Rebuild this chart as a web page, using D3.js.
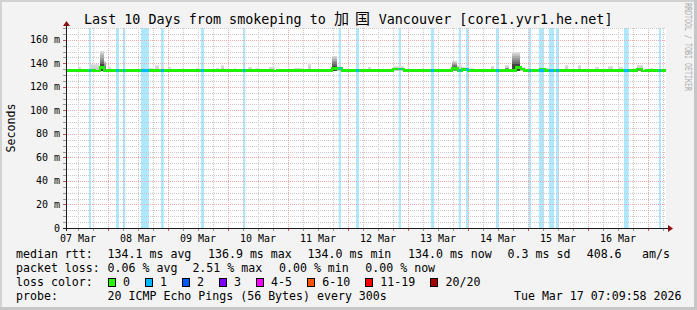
<!DOCTYPE html>
<html>
<head>
<meta charset="utf-8">
<script src="https://cdn.jsdelivr.net/npm/d3@7"></script>
<style>
  body { margin: 0; background: #f3f3f3; }
  svg { display: block; }
  text { font-family: "DejaVu Sans Mono", monospace; fill: #000; }
</style>
</head>
<body>
<svg id="chart"></svg>
<script>
// ---------------------------------------------------------------
//  data
// ---------------------------------------------------------------
const graphStart = "2026-03-07T07:09:58Z"
const graphEnd = "2026-03-17T07:09:58Z"

// loss periods, hours after graph start
const lossStartH = [9.2, 20.0, 22.8, 30.0, 38.0, 54.0, 70.9, 109.1, 116.0, 133.1, 146.0, 157.1, 160.0, 172.0, 185.1, 189.2, 193.2, 196.0, 223.2, 237.2]
const lossEndH   = [10.0, 21.2, 23.7, 33.2, 39.1, 55.2, 71.7, 110.0, 117.2, 134.0, 147.2, 158.0, 161.1, 173.1, 186.0, 191.1, 195.2, 197.1, 225.1, 238.0]
const lossCount  = [1, 1, 1, 1, 1, 1, 1, 1, 1, 1, 1, 1, 1, 1, 1, 1, 1, 1, 1, 1]

// median rtt (ms), step changes, hours after graph start
const medianH  = [0, 11.6, 13.6, 15.2, 16.4, 82.8, 84.4, 106.4, 110.4, 130.8, 135.2, 154.4, 156.8, 158.4, 160.8, 180.0, 182.0, 183.2, 189.6, 191.6, 228.4, 230.4, 232.0, 240]
const medianMs = [134.0, 133.3, 136.3, 133.3, 134.0, 133.3, 134.0, 135.5, 134.0, 135.3, 134.0, 135.5, 134.0, 134.8, 134.0, 136.5, 135.3, 134.0, 134.8, 134.0, 135.0, 133.3, 134.0, 134.0]

// smoke (ping spread) : from / to hours, top of spread, top of the dark core (ms)
const smokeStartH = [4.8, 10.0, 13.6, 15.2, 16.8, 30.0, 33.2, 35.6, 38.0, 40.8, 52.0, 60.0, 62.0, 67.2, 72.8, 75.6, 81.2, 91.2, 96.8, 106.4, 108.4, 120.8, 130.8, 154.4, 156.4, 158.4, 161.6, 170.0, 175.6, 178.4, 181.6, 189.6, 192.0, 199.6, 204.8, 211.6, 216.8, 221.2, 228.4, 233.6]
const smokeEndH   = [6.0, 13.2, 15.2, 16.0, 18.0, 31.2, 35.2, 37.2, 39.2, 42.0, 53.2, 61.2, 63.2, 68.0, 74.4, 77.6, 83.6, 94.4, 98.0, 108.4, 110.4, 122.0, 135.2, 156.4, 158.4, 161.2, 163.2, 171.2, 177.2, 181.6, 183.6, 191.6, 194.4, 200.8, 206.0, 213.2, 218.8, 222.8, 230.8, 234.8]
const smokeTop    = [137, 139.6, 150.6, 142, 137, 136, 136, 138.7, 137.5, 137, 136, 136, 138.7, 136, 137, 136, 137, 136, 140, 146.6, 138, 137, 137.5, 142, 138.5, 137, 136, 138, 138.7, 150, 137, 135.5, 136, 138.7, 138.7, 137, 137.5, 137, 138.7, 136]
const smokeCore   = [134.5, 135.5, 139, 136, 134.5, 135.5, 134.5, 135, 135, 134.5, 134.5, 134.5, 135, 134.5, 134.5, 134.5, 134.5, 134.5, 135, 138, 135.5, 134.5, 135.5, 137, 135, 134.5, 134.5, 135, 136, 139, 134.5, 134.5, 134.5, 135, 135, 134.5, 135, 134.5, 136, 134.5]

const yTicks = [0, 20, 40, 60, 80, 100, 120, 140, 160]

const rttLabel = "median rtt:"
const rttStats = ["134.1 ms avg", "136.9 ms max", "134.0 ms min", "134.0 ms now", "0.3 ms sd", "408.6", "am/s"]
const lossLabel = "packet loss:"
const lossStats = ["0.06 % avg", "2.51 % max", "0.00 % min", "0.00 % now"]
const lossColorLabel = "loss color:"
const lossNames  = ["0", "1", "2", "3", "4-5", "6-10", "11-19", "20/20"]
const lossColors = ["#26ff00", "#00b8ff", "#0059ff", "#7e00ff", "#ff00ff", "#ff5500", "#ff0000", "#a10000"]
const probeLabel = "probe:"
const probeText = "20 ICMP Echo Pings (56 Bytes) every 300s"
const stampText = "Tue Mar 17 07:09:58 2026"

const titleLeft = "Last 10 Days from smokeping to"
const titleCJK = "加国"
const titleRight = "Vancouver [core1.yvr1.he.net]"

// ---------------------------------------------------------------
//  layout
// ---------------------------------------------------------------
const W = 697, H = 310
const PLOT_L = 66, PLOT_R = 666, PLOT_T = 28, PLOT_B = 228
const CHAR_W = 7.03
const LEGEND_X = 16, VALUE_X = 107.6

const svg = d3.select("#chart").attr("width", W).attr("height", H)

svg.append("rect").attr("width", W).attr("height", H).attr("fill", "#f3f3f3")
// 3d frame
svg.append("rect").attr("x", 0).attr("y", 0).attr("width", W).attr("height", 2).attr("fill", "#d2d2d2")
svg.append("rect").attr("x", 0).attr("y", 0).attr("width", 2).attr("height", H).attr("fill", "#d2d2d2")
svg.append("rect").attr("x", W - 3).attr("y", 0).attr("width", 3).attr("height", H).attr("fill", "#c6c6c6")
svg.append("rect").attr("x", 0).attr("y", H - 3).attr("width", W).attr("height", 3).attr("fill", "#c6c6c6")

const t0 = new Date(graphStart)
const t1 = new Date(graphEnd)
const hrs = h => new Date(t0.getTime() + h * 3600e3)

const x = d3.scaleUtc().domain([t0, t1]).range([PLOT_L, PLOT_R])
const y = d3.scaleLinear().domain([0, 170]).range([PLOT_B, PLOT_T])

svg.append("rect")
    .attr("x", PLOT_L).attr("y", PLOT_T)
    .attr("width", PLOT_R - PLOT_L).attr("height", PLOT_B - PLOT_T)
    .attr("fill", "#ffffff")

// loss bars in the background
svg.append("g").selectAll("rect")
    .data(lossStartH.map((s, i) => ({ s, e: lossEndH[i], n: lossCount[i] })))
    .join("rect")
    .attr("x", d => x(hrs(d.s)))
    .attr("width", d => x(hrs(d.e)) - x(hrs(d.s)))
    .attr("y", PLOT_T)
    .attr("height", PLOT_B - PLOT_T)
    .attr("fill", d => lossColors[d.n])
    .attr("fill-opacity", 0.32)

// grid
const grid = svg.append("g").attr("shape-rendering", "crispEdges")
const minorY = d3.range(5, 171, 5).filter(v => v % 20 !== 0)
const majorY = d3.range(20, 170, 20)
grid.selectAll(".hmin").data(minorY).join("line")
    .attr("x1", PLOT_L).attr("x2", PLOT_R)
    .attr("y1", d => Math.round(y(d)) + 0.5).attr("y2", d => Math.round(y(d)) + 0.5)
    .attr("stroke", "#c8c8c8").attr("stroke-dasharray", "1,1")
const days = d3.utcDay.range(t0, t1)
const minorX = d3.utcHour.every(6).range(t0, t1).filter(d => d.getUTCHours() !== 0)
grid.selectAll(".vmin").data(minorX).join("line")
    .attr("x1", d => Math.round(x(d)) + 0.5).attr("x2", d => Math.round(x(d)) + 0.5)
    .attr("y1", PLOT_T).attr("y2", PLOT_B)
    .attr("stroke", "#c8c8c8").attr("stroke-dasharray", "1,1")
grid.selectAll(".hmaj").data(majorY).join("line")
    .attr("x1", PLOT_L).attr("x2", PLOT_R)
    .attr("y1", d => Math.round(y(d)) + 0.5).attr("y2", d => Math.round(y(d)) + 0.5)
    .attr("stroke", "#f2a8a8").attr("stroke-dasharray", "1,1")
grid.selectAll(".vmaj").data(days).join("line")
    .attr("x1", d => Math.round(x(d)) + 0.5).attr("x2", d => Math.round(x(d)) + 0.5)
    .attr("y1", PLOT_T).attr("y2", PLOT_B)
    .attr("stroke", "#f2a8a8").attr("stroke-dasharray", "1,1")

// smoke
const smoke = svg.append("g").attr("shape-rendering", "crispEdges")
const smokeData = smokeStartH.map((s, i) => ({ s, e: smokeEndH[i], top: smokeTop[i], core: smokeCore[i] }))
smokeData.forEach(d => {
    const x0 = x(hrs(d.s)), x1 = x(hrs(d.e))
    const base = 133.5
    const layers = 6
    const tall = d.top - base > 7
    const shade = d3.interpolateRgb(tall ? "#6a6a6a" : "#cdcdcd", tall ? "#dadada" : "#e0e0e0")
    for (let k = 0; k < layers; k++) {
        const lo = d.core + (d.top - d.core) * k / layers
        const hi = d.core + (d.top - d.core) * (k + 1) / layers
        smoke.append("rect")
            .attr("x", x0).attr("width", x1 - x0)
            .attr("y", y(hi)).attr("height", y(lo) - y(hi))
            .attr("fill", shade(k / (layers - 1)))
    }
    if (d.core > base) {
        smoke.append("rect")
            .attr("x", x0).attr("width", x1 - x0)
            .attr("y", y(d.core)).attr("height", y(base) - y(d.core))
            .attr("fill", d.core - base > 4 ? "#444444" : (d.core - base > 2 ? "#8a8a8a" : "#c4c4c4"))
    }
})

// median line
const medPts = medianH.map((h, i) => [hrs(h), medianMs[i]])
const line = d3.line().x(d => x(d[0])).y(d => y(d[1])).curve(d3.curveStepAfter)
svg.append("path")
    .attr("d", line(medPts))
    .attr("fill", "none")
    .attr("stroke", "#1ef000")
    .attr("stroke-width", 2.4)
    .attr("shape-rendering", "crispEdges")

const medianAt = h => medianMs[Math.max(0, d3.bisectRight(medianH, h) - 1)]
svg.append("g").selectAll("line")
    .data(lossStartH.map((s, i) => ({ s, e: lossEndH[i], n: lossCount[i] })))
    .join("line")
    .attr("x1", d => x(hrs(d.s))).attr("x2", d => x(hrs(d.e)))
    .attr("y1", d => y(medianAt(d.s))).attr("y2", d => y(medianAt(d.s)))
    .attr("stroke", d => lossColors[d.n])
    .attr("stroke-width", 2.4)
    .attr("shape-rendering", "crispEdges")

// axes
const axes = svg.append("g").attr("shape-rendering", "crispEdges")
axes.selectAll(".ty").data(d3.range(0, 171, 5)).join("line")
    .attr("x1", PLOT_L - 3).attr("x2", PLOT_L)
    .attr("y1", d => Math.round(y(d)) + 0.5).attr("y2", d => Math.round(y(d)) + 0.5)
    .attr("stroke", d => d % 20 === 0 ? "#d05050" : "#999")
axes.selectAll(".tx").data(d3.utcHour.every(6).range(t0, t1)).join("line")
    .attr("x1", d => Math.round(x(d)) + 0.5).attr("x2", d => Math.round(x(d)) + 0.5)
    .attr("y1", PLOT_B).attr("y2", PLOT_B + 3)
    .attr("stroke", d => d.getUTCHours() === 0 ? "#d05050" : "#999")
axes.append("line")
    .attr("x1", PLOT_L - 3).attr("x2", PLOT_R + 3)
    .attr("y1", PLOT_B + 0.5).attr("y2", PLOT_B + 0.5)
    .attr("stroke", "#1a1a1a")
axes.append("line")
    .attr("x1", PLOT_L + 0.5).attr("x2", PLOT_L + 0.5)
    .attr("y1", PLOT_B + 3).attr("y2", PLOT_T - 3)
    .attr("stroke", "#1a1a1a")
svg.append("path")
    .attr("d", `M${PLOT_R + 2},${PLOT_B - 3} L${PLOT_R + 7},${PLOT_B + 0.5} L${PLOT_R + 2},${PLOT_B + 4}Z`)
    .attr("fill", "#8a1010")
svg.append("path")
    .attr("d", `M${PLOT_L - 3},${PLOT_T - 2} L${PLOT_L + 0.5},${PLOT_T - 7} L${PLOT_L + 4},${PLOT_T - 2}Z`)
    .attr("fill", "#8a1010")

// tick labels
svg.append("g").selectAll("text").data(yTicks).join("text")
    .attr("x", 60).attr("y", d => y(d) + 3.5)
    .attr("text-anchor", "end")
    .style("font-size", "10px")
    .text(d => d === 0 ? "0" : `${d} m`)

const noons = days.map(d => d3.utcHour.offset(d, 12)).concat([d3.utcHour.offset(d3.utcDay.floor(t0), 12)])
    .filter(d => d >= t0 && d <= t1)
svg.append("g").selectAll("text").data(noons).join("text")
    .attr("x", d => x(d)).attr("y", 242)
    .attr("text-anchor", "middle")
    .style("font-size", "10px")
    .text(d => d3.utcFormat("%d %b")(d))

svg.append("text")
    .attr("transform", "translate(14.5,128)rotate(-90)")
    .attr("text-anchor", "middle")
    .style("font-size", "11.6px")
    .text("Seconds")

// title
const title = svg.append("g").style("font-size", "13.4px")
title.append("text").attr("x", 84).attr("y", 24).text(titleLeft)
title.append("text").attr("x", 334).attr("y", 24).style("font-family", "'Noto Sans CJK SC'").style("font-size", "15px")
    .attr("textLength", 36).text(titleCJK)
title.append("text").attr("x", 378.7).attr("y", 24).text(titleRight)

// watermark
svg.append("text")
    .attr("transform", "translate(685,3)rotate(90)")
    .style("font-size", "9.5px")
    .style("fill", "#a9a9a9")
    .attr("textLength", 88).attr("lengthAdjust", "spacingAndGlyphs")
    .text("RRDTOOL / TOBI OETIKER")

// legend
const legend = svg.append("g").style("font-size", "11.6px").attr("white-space", "pre")
legend.append("text").attr("x", LEGEND_X).attr("y", 257.7).text(rttLabel)
const rttX = [107.6, 208, 307.6, 408, 507.6, 586.7, 642]
legend.selectAll(".rtt").data(rttStats).join("text")
    .attr("x", (d, i) => rttX[i]).attr("y", 257.7).text(d => d)

legend.append("text").attr("x", LEGEND_X).attr("y", 271.7).text(lossLabel)
const lossX = [107.6, 192.4, 279, 365.3]
legend.selectAll(".ls").data(lossStats).join("text")
    .attr("x", (d, i) => lossX[i]).attr("y", 271.7).text(d => d)

legend.append("text").attr("x", LEGEND_X).attr("y", 285.6).text(lossColorLabel)
let bx = 108
const boxes = lossNames.map((n, i) => {
    const item = { n, c: lossColors[i], x: bx }
    bx += 30 + CHAR_W * n.length
    return item
})
legend.selectAll(".lb").data(boxes).join("rect")
    .attr("x", d => d.x + 0.5).attr("y", 278.5)
    .attr("width", 7).attr("height", 8)
    .attr("fill", d => d.c).attr("stroke", "#000")
    .attr("shape-rendering", "crispEdges")
legend.selectAll(".lt").data(boxes).join("text")
    .attr("x", d => d.x + 15).attr("y", 285.6).text(d => d.n)

legend.append("text").attr("x", LEGEND_X).attr("y", 299.6).text(probeLabel)
legend.append("text").attr("x", VALUE_X).attr("y", 299.6).text(probeText)
legend.append("text").attr("x", 681.5).attr("y", 299.6).attr("text-anchor", "end").text(stampText)
</script>
</body>
</html>
